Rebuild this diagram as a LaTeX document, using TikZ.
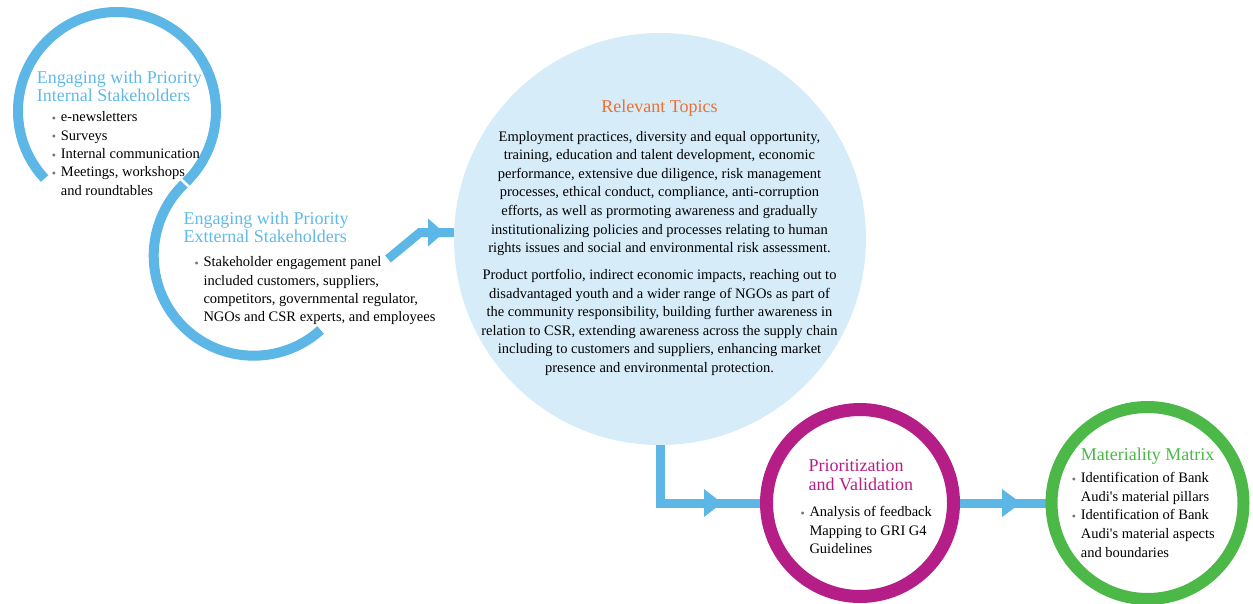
\documentclass[tikz,border=0pt]{standalone}
\usepackage{fontspec}
\setmainfont{Liberation Serif}
\usetikzlibrary{calc}

\definecolor{ringblue}{RGB}{92,182,230}
\definecolor{headblue}{RGB}{96,186,232}
\definecolor{topicfill}{RGB}{214,236,249}
\definecolor{topicorange}{RGB}{238,112,46}
\definecolor{prioma}{RGB}{180,30,134}
\definecolor{matgreen}{RGB}{76,184,72}
\definecolor{bulgray}{RGB}{115,115,115}

% small grey bullet hung to the left of an item
\newcommand{\bulpt}{\llap{{\fontsize{12}{12}\selectfont\color{bulgray}\raisebox{-0.8pt}{•}}\hspace{4.8pt}}}

\tikzset{
  heading/.style={anchor=base west, inner sep=0pt, font=\fontsize{18}{18.4}\selectfont},
  body/.style={anchor=base west, inner sep=0pt, font=\fontsize{14.5}{18.4}\selectfont},
  flow/.style={draw=ringblue, line width=9pt, line join=miter},
  flowhead/.style={fill=ringblue},
  ring/.style={draw=ringblue, line width=10pt},
}

\begin{document}
\begin{tikzpicture}[x=1pt, y=-1pt]
\path[use as bounding box] (0,0) rectangle (1253,603);

% large topic disc
\node[circle, fill=topicfill, minimum size=412pt, inner sep=0pt] (topics) at (660,239) {};

% centres of the two open rings
\coordinate (c1) at (117,111);
\coordinate (c2) at (253.7,255.7);

% connectors
\coordinate (a1s) at (388,259);
\coordinate (a1k) at (420,232.5);
\draw[flow] (a1s) -- (a1k) -- (a1k -| topics.west);
\fill[flowhead] (428,218.5) -- (444,232.5) -- (428,246.5) -- cycle;

\node[circle, minimum size=187pt, inner sep=0pt] (prio) at (860,503) {};
\node[circle, minimum size=192pt, inner sep=0pt] (matx) at (1147.5,503) {};

\draw[flow] (topics.south) |- (prio.west);
\fill[flowhead] (704,489) -- (722,503) -- (704,517) -- cycle;

\draw[flow] (prio.east) -- (matx.west);
\fill[flowhead] (1002,489) -- (1021,503) -- (1002,517) -- cycle;

% rings
\draw[ring] (c1) ++(223:99pt) arc[start angle=223, end angle=-45.8, radius=99pt];
\draw[ring] (c2) ++(134.2:100pt) arc[start angle=134.2, end angle=312, radius=100pt];
\draw[draw=prioma, line width=13pt, fill=white] (prio) circle (93.5pt);
\draw[draw=matgreen, line width=12pt, fill=white] (matx) circle (96pt);

% internal stakeholders
\node[heading, text=headblue] (h1) at (36.7,83) {\begin{tabular}[t]{@{}l@{}}Engaging with Priority\\Internal Stakeholders\end{tabular}};
\node[body] (b1) at (60.7,121.7) {\begin{tabular}[t]{@{}l@{}}\bulpt e-newsletters\\\bulpt Surveys\\\bulpt Internal communication\\\bulpt Meetings, workshops\\and roundtables\end{tabular}};

% external stakeholders
\node[heading, text=headblue] (h2) at (183.3,224.3) {\begin{tabular}[t]{@{}l@{}}Engaging with Priority\\Extternal Stakeholders\end{tabular}};
\node[body] (b2) at (203.3,266.7) {\begin{tabular}[t]{@{}l@{}}\bulpt Stakeholder engagement panel\\included customers, suppliers,\\competitors, governmental regulator,\\NGOs and CSR experts, and employees\end{tabular}};

% relevant topics
\node[anchor=base, inner sep=0pt, font=\fontsize{18}{18}\selectfont, text=topicorange] (h3) at (659.5,112) {Relevant Topics};
\node[anchor=base, inner sep=0pt, font=\fontsize{14.5}{18.6}\selectfont] (b3) at (659.5,141) {\begin{tabular}[t]{@{}c@{}}Employment practices, diversity and equal opportunity,\\training, education and talent development, economic\\performance, extensive due diligence, risk management\\processes, ethical conduct, compliance, anti-corruption\\efforts, as well as prormoting awareness and gradually\\institutionalizing policies and processes relating to human\\rights issues and social and environmental risk assessment.\\[8.3pt]Product portfolio, indirect economic impacts, reaching out to\\disadvantaged youth and a wider range of NGOs as part of\\the community responsibility, building further awareness in\\relation to CSR, extending awareness across the supply chain\\including to customers and suppliers, enhancing market\\presence and environmental protection.\end{tabular}};

% prioritization
\node[heading, text=prioma] (h4) at (808.3,471.7) {\begin{tabular}[t]{@{}l@{}}Prioritization\\and Validation\end{tabular}};
\node[body] (b4) at (809.3,516.7) {\begin{tabular}[t]{@{}l@{}}\bulpt Analysis of feedback\\Mapping to GRI G4\\Guidelines\end{tabular}};

% materiality matrix
\node[heading, text=matgreen] (h5) at (1080.7,460) {Materiality Matrix};
\node[body, font=\fontsize{14.5}{18.7}\selectfont] (b5) at (1080.7,482.3) {\begin{tabular}[t]{@{}l@{}}\bulpt Identification of Bank\\Audi\textquotesingle s material pillars\\\bulpt Identification of Bank\\Audi\textquotesingle s material aspects\\and boundaries\end{tabular}};
\end{tikzpicture}
\end{document}
